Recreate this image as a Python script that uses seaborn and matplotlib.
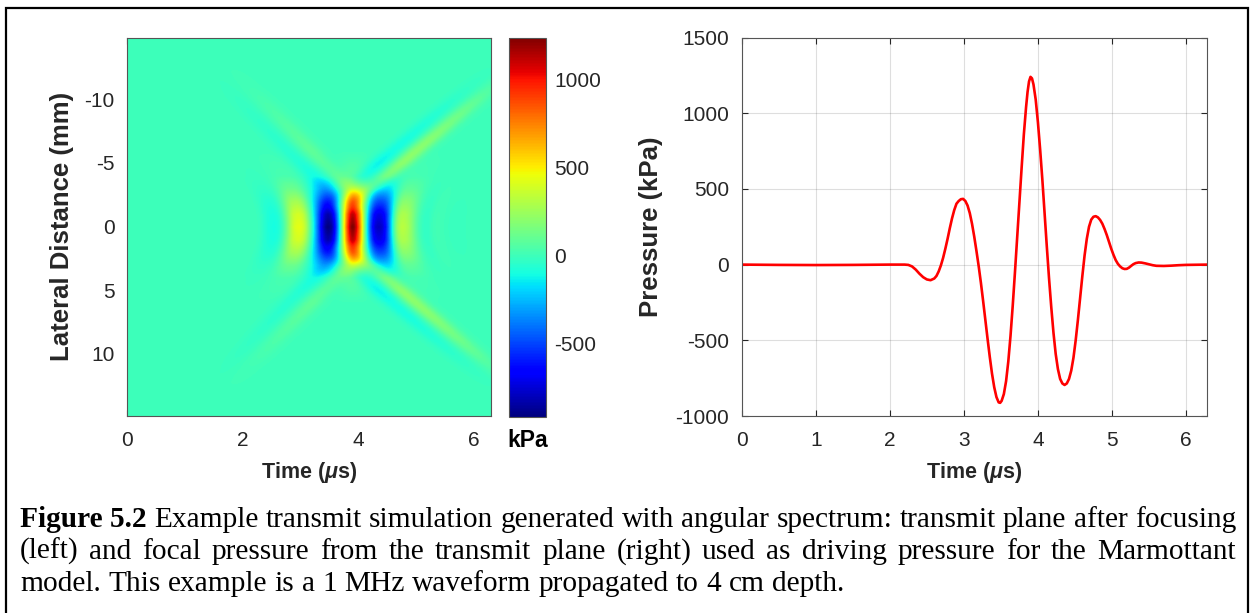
import numpy as np
import pandas as pd
import matplotlib
matplotlib.use("Agg")
import matplotlib.pyplot as plt
import seaborn as sns
from matplotlib.patches import Rectangle

# ---------------- data ----------------
# focal pressure trace (right panel)
time_us = [0.00, 0.50, 1.00, 1.50, 2.00, 2.20, 2.25, 2.30, 2.35, 2.40, 2.45, 2.50,
           2.55, 2.60, 2.63, 2.66, 2.69, 2.72, 2.75, 2.78, 2.81, 2.84, 2.87, 2.90,
           2.93, 2.96, 2.99, 3.02, 3.05, 3.08, 3.11, 3.14, 3.17, 3.20, 3.23, 3.26,
           3.29, 3.32, 3.35, 3.38, 3.41, 3.44, 3.47, 3.49, 3.51, 3.54, 3.57, 3.60,
           3.63, 3.66, 3.69, 3.72, 3.75, 3.78, 3.81, 3.84, 3.86, 3.88, 3.90, 3.92,
           3.94, 3.97, 4.00, 4.03, 4.06, 4.09, 4.12, 4.15, 4.18, 4.21, 4.24, 4.27,
           4.30, 4.33, 4.36, 4.39, 4.42, 4.45, 4.48, 4.51, 4.54, 4.57, 4.60, 4.63,
           4.66, 4.69, 4.72, 4.75, 4.78, 4.81, 4.84, 4.87, 4.90, 4.93, 4.96, 4.99,
           5.02, 5.05, 5.08, 5.11, 5.14, 5.17, 5.20, 5.23, 5.26, 5.29, 5.32, 5.36,
           5.40, 5.45, 5.50, 5.55, 5.60, 5.70, 5.80, 5.90, 6.00, 6.283]
pressure_kpa = [0, -2, -3, -2, 0, 0, -2, -12, -33, -60, -83, -98,
                -103, -92, -75, -45, -5, 45, 105, 170, 240, 305, 360, 402,
                420, 432, 434, 420, 390, 340, 270, 185, 90, -10, -120, -240,
                -365, -490, -610, -720, -810, -875, -910, -913, -900, -855, -770, -640,
                -470, -270, -50, 180, 410, 640, 860, 1040, 1140, 1210, 1240, 1230,
                1190, 1090, 940, 760, 560, 340, 120, -90, -280, -450, -590, -690,
                -755, -785, -795, -785, -755, -700, -615, -500, -365, -220, -75, 60,
                170, 250, 297, 316, 320, 312, 295, 270, 235, 195, 150, 105,
                65, 30, 5, -12, -24, -29, -28, -20, -8, 3, 10, 14,
                13, 8, 2, -4, -8, -9, -7, -4, -2, 0]

# transmit plane (left panel): lateral beam profile and off-axis arms
lat_mm = [0, 1, 2, 3, 4, 6]
lat_gain = [1.0, 0.9, 0.62, 0.28, 0.07, 0.0]
arm_mm = [0, 1.5, 3, 5, 7, 9, 11, 13, 20]
arm_gain_late = [0, 0, 0.8, 1.0, 0.85, 0.55, 0.2, 0.0, 0.0]
arm_gain_early = [0, 0, 0.7, 0.75, 0.55, 0.3, 0.08, 0.0, 0.0]
arm_late = {"t0": 3.45, "slope": 0.26, "pos": 220, "neg": -110}
arm_early = {"t0": 4.45, "slope": -0.21, "pos": 135, "neg": -85}

xticks_left = [0, 2, 4, 6]
yticks_left = [-10, -5, 0, 5, 10]
cbar_ticks = [-500, 0, 500, 1000]
xticks_right = [0, 1, 2, 3, 4, 5, 6]
yticks_right = [-1000, -500, 0, 500, 1000, 1500]

caption_lines = [
    [("Figure 5.2", "bold")] + [(w, "normal") for w in
     "Example transmit simulation generated with angular spectrum: transmit plane after focusing".split()],
    [(w, "normal") for w in "(left) and focal pressure from the transmit plane (right) used as driving pressure for the Marmottant".split()],
    [(w, "normal") for w in "model. This example is a 1 MHz waveform propagated to 4 cm depth.".split()],
]

# ---------------- build the field for the heat map ----------------
t_w = np.array(time_us)
p_w = np.array(pressure_kpa)
T_MAX = 2 * np.pi
Y_MAX = 14.85
nt, ny = 363, 378
dt = T_MAX / nt
dy = 2 * Y_MAX / ny
T = (np.arange(nt) + 0.5) * dt
Y = -Y_MAX + (np.arange(ny) + 0.5) * dy
TT, YY = np.meshgrid(T, Y)
AY = np.abs(YY)

stretch = 1.0 / (1.0 + 0.015 * YY ** 2)
t_eff = 3.9 + (TT - 3.9) * stretch
main = np.interp(t_eff, t_w, p_w) * np.interp(AY, lat_mm, lat_gain)


def arm(params, gains):
    tc = params["t0"] + params["slope"] * AY
    w = 0.19
    shape = params["pos"] * np.exp(-((TT - tc) / w) ** 2) + \
        params["neg"] * np.exp(-((TT - tc + 0.4) / w) ** 2)
    return shape * np.interp(AY, arm_mm, gains)


field = main + arm(arm_late, arm_gain_late) + arm(arm_early, arm_gain_early)
df = pd.DataFrame(field, index=np.round(Y, 3), columns=np.round(T, 4))

# ---------------- figure ----------------
sns.set_theme(style="white")
plt.rcParams["font.family"] = ["Liberation Sans", "DejaVu Sans"]
plt.rcParams["mathtext.fontset"] = "custom"
plt.rcParams["mathtext.it"] = "Liberation Sans:italic:bold"
plt.rcParams["mathtext.rm"] = "Liberation Sans:bold"

W, H = 1253, 613
fig = plt.figure(figsize=(W / 100, H / 100), dpi=100)
fig.patch.set_facecolor("white")


def fr(x0, y0, x1, y1):
    return [x0 / W, 1 - y1 / H, (x1 - x0) / W, (y1 - y0) / H]


ax1 = fig.add_axes(fr(127, 37.5, 490.5, 415.7))
cax = fig.add_axes(fr(508.5, 37.5, 546, 416.5))
ax2 = fig.add_axes(fr(741.7, 37.5, 1207, 416))

DARK = "#262626"
TICK_FS = 15
XLABEL_FS = 15.5
YLABEL_FS = 18.5

sns.heatmap(df, ax=ax1, cmap="jet", vmin=-912, vmax=1238, cbar_ax=cax,
            xticklabels=False, yticklabels=False, rasterized=True)
ax1.set_xticks(np.array(xticks_left) / dt)
ax1.set_xticklabels([str(v) for v in xticks_left])
ax1.set_yticks((np.array(yticks_left) + Y_MAX) / dy)
ax1.set_yticklabels([str(v) for v in yticks_left], rotation=0)
ax1.set_xlabel(r"Time ($\mu$s)", fontsize=XLABEL_FS, fontweight="bold", color=DARK, labelpad=7)
ax1.set_ylabel("Lateral Distance (mm)", fontsize=YLABEL_FS, fontweight="bold", color=DARK)
ax1.yaxis.set_label_coords(-0.146, 0.5)
for s in ax1.spines.values():
    s.set_visible(True)
    s.set_color("#555555")
    s.set_linewidth(0.8)
ax1.tick_params(axis="both", direction="in", length=4, width=0.8, color=DARK,
                labelsize=TICK_FS, labelcolor=DARK, top=True, right=True,
                bottom=True, left=True)
ax1.tick_params(axis="x", pad=11)
ax1.tick_params(axis="y", pad=9)

cbar = ax1.collections[0].colorbar
cbar.set_ticks(cbar_ticks)
cbar.set_ticklabels([str(v) for v in cbar_ticks])
cbar.outline.set_edgecolor("#555555")
cbar.outline.set_linewidth(0.8)
cax.tick_params(direction="in", length=4, width=0.8, color=DARK, labelsize=TICK_FS,
                labelcolor=DARK, pad=6, right=True, left=False)
cax.text(0.5, -0.064, "kPa", transform=cax.transAxes, ha="center", va="center",
         fontsize=XLABEL_FS + 1, fontweight="bold", color="black")

sns.lineplot(x=time_us, y=pressure_kpa, ax=ax2, color="red", linewidth=1.9, sort=True)
ax2.set_xlim(0, T_MAX)
ax2.set_ylim(-1000, 1500)
ax2.set_xticks(xticks_right)
ax2.set_xticklabels([str(v) for v in xticks_right])
ax2.set_yticks(yticks_right)
ax2.set_yticklabels([str(v) for v in yticks_right])
ax2.grid(True, color=DARK, alpha=0.15, linewidth=0.8)
ax2.set_axisbelow(True)
ax2.set_xlabel(r"Time ($\mu$s)", fontsize=XLABEL_FS, fontweight="bold", color=DARK, labelpad=7)
ax2.set_ylabel("Pressure (kPa)", fontsize=YLABEL_FS, fontweight="bold", color=DARK)
ax2.yaxis.set_label_coords(-0.169, 0.5)
for s in ax2.spines.values():
    s.set_visible(True)
    s.set_color("#555555")
    s.set_linewidth(0.8)
ax2.tick_params(axis="both", direction="in", length=4, width=0.8, color=DARK,
                labelsize=TICK_FS, labelcolor=DARK, top=True, right=True,
                bottom=True, left=True)
ax2.tick_params(axis="x", pad=11)
ax2.tick_params(axis="y", pad=9)

# figure frame
fig.patches.append(Rectangle((6 / W, -0.05), (1248 - 6) / W, 1.05 - 8 / H,
                             transform=fig.transFigure, fill=False,
                             edgecolor="black", linewidth=1.6))

# caption, justified like the document
fig.canvas.draw()
renderer = fig.canvas.get_renderer()


def measure(words, fs):
    ws = []
    for w, wt in words:
        t = fig.text(0, 0, w, fontsize=fs, family="Liberation Serif", fontweight=wt)
        ws.append(t.get_window_extent(renderer).width)
        t.remove()
    a = fig.text(0, 0, "a a", fontsize=fs, family="Liberation Serif")
    b = fig.text(0, 0, "aa", fontsize=fs, family="Liberation Serif")
    sp = a.get_window_extent(renderer).width - b.get_window_extent(renderer).width
    a.remove(); b.remove()
    return ws, sp


x_left, x_right = 20, 1236
base_fs = 20.0
ws3, sp3 = measure(caption_lines[2], base_fs)
CAP_FS = base_fs * (843 - x_left) / (sum(ws3) + sp3 * (len(ws3) - 1))
for line in caption_lines[:2]:
    ws, sp = measure(line, CAP_FS)
    nat = sum(ws) + sp * 0.8 * (len(ws) - 1)
    if nat > x_right - x_left:
        CAP_FS *= (x_right - x_left) / nat

baselines = [527, 559, 591]
for i, (words, yb) in enumerate(zip(caption_lines, baselines)):
    ws, sp = measure(words, CAP_FS)
    if i < len(caption_lines) - 1:
        gap = (x_right - x_left - sum(ws)) / (len(words) - 1)
    else:
        gap = sp
    x = x_left
    for (w, wt), wd in zip(words, ws):
        fig.text(x / W, 1 - yb / H, w, fontsize=CAP_FS, family="Liberation Serif",
                 fontweight=wt, va="baseline", ha="left", color="black")
        x += wd + gap

fig.savefig("out.png", dpi=100, facecolor="white")
